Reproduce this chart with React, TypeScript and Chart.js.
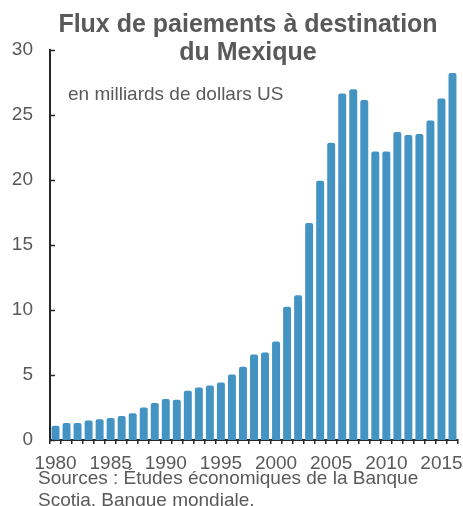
import React, { useEffect, useRef } from 'react';
import { Chart, registerables } from 'chart.js';

Chart.register(...registerables);

const years = [
  '1980', '1981', '1982', '1983', '1984', '1985', '1986', '1987', '1988', '1989',
  '1990', '1991', '1992', '1993', '1994', '1995', '1996', '1997', '1998', '1999',
  '2000', '2001', '2002', '2003', '2004', '2005', '2006', '2007', '2008', '2009',
  '2010', '2011', '2012', '2013', '2014', '2015', '2016',
];

const remittances = [
  1.1, 1.3, 1.3, 1.5, 1.6, 1.7, 1.85, 2.05, 2.5, 2.85,
  3.16, 3.1, 3.78, 4.04, 4.2, 4.42, 5.04, 5.63, 6.58, 6.73,
  7.58, 10.25, 11.13, 16.7, 19.94, 22.87, 26.65, 26.98, 26.16, 22.2,
  22.2, 23.7, 23.46, 23.54, 24.57, 26.27, 28.24,
];

const shownYearLabels = ['1980', '1985', '1990', '1995', '2000', '2005', '2010', '2015'];
const yTicks = [0, 5, 10, 15, 20, 25, 30];

const titleLines = ['Flux de paiements à destination', 'du Mexique'];
const subtitle = 'en milliards de dollars US';
const sourceLines = ['Sources : Études économiques de la Banque', 'Scotia, Banque mondiale.'];

const FONT = '"Liberation Sans", Arial, Helvetica, sans-serif';
const TEXT = '#595959';
const AXIS = '#262626';
const BAR = '#4393c3';

const decorations = {
  id: 'decorations',
  afterDraw(chart: any) {
    const ctx = chart.ctx;
    const area = chart.chartArea;
    const y = chart.scales.y;
    ctx.save();
    // inward y ticks
    ctx.strokeStyle = AXIS;
    ctx.lineWidth = 1.5;
    yTicks.forEach((v) => {
      const py = Math.round(y.getPixelForValue(v)) + 0.5;
      ctx.beginPath();
      ctx.moveTo(area.left, py);
      ctx.lineTo(area.left + 5, py);
      ctx.stroke();
    });
    // title
    ctx.fillStyle = TEXT;
    ctx.textAlign = 'center';
    ctx.textBaseline = 'alphabetic';
    ctx.font = `bold 25px ${FONT}`;
    ctx.fillText(titleLines[0], 248, 32);
    ctx.fillText(titleLines[1], 248, 60);
    // subtitle
    ctx.textAlign = 'left';
    ctx.font = `19px ${FONT}`;
    ctx.fillText(subtitle, 68, 100);
    // sources
    ctx.fillText(sourceLines[0], 38, 484);
    ctx.fillText(sourceLines[1], 38, 506);
    ctx.restore();
  },
};

export default function App() {
  const canvasRef = useRef<HTMLCanvasElement | null>(null);

  useEffect(() => {
    const canvas = canvasRef.current;
    if (!canvas) return;
    const chart = new Chart(canvas, {
      type: 'bar',
      data: {
        labels: years,
        datasets: [
          {
            data: remittances,
            backgroundColor: BAR,
            borderWidth: 0,
            borderRadius: { topLeft: 2, topRight: 2, bottomLeft: 0, bottomRight: 0 },
            borderSkipped: 'bottom',
            categoryPercentage: 1,
            barPercentage: 0.72,
          },
        ],
      },
      options: {
        animation: false,
        responsive: false,
        devicePixelRatio: 1,
        layout: { padding: { top: 50, right: 5, left: 0, bottom: 0 } },
        plugins: {
          legend: { display: false },
          title: { display: false },
          tooltip: { enabled: false },
        },
        scales: {
          x: {
            offset: true,
            grid: {
              display: true,
              offset: true,
              drawOnChartArea: false,
              drawTicks: true,
              tickLength: 4,
              color: AXIS,
              lineWidth: 1.5,
            },
            border: { display: true, color: AXIS, width: 2 },
            ticks: {
              autoSkip: false,
              maxRotation: 0,
              minRotation: 0,
              padding: 8,
              color: TEXT,
              font: { family: FONT, size: 19 },
              callback: function (this: any, value: any, index: number) {
                const lab = years[index];
                return shownYearLabels.includes(lab) ? lab : '';
              },
            },
            afterFit: (scale: any) => {
              scale.height = 66;
            },
          },
          y: {
            min: 0,
            max: 30,
            grid: { display: false, drawTicks: false },
            border: { display: true, color: AXIS, width: 2 },
            ticks: {
              stepSize: 5,
              padding: 17,
              color: TEXT,
              font: { family: FONT, size: 19 },
            },
            afterFit: (scale: any) => {
              scale.width = 50;
            },
          },
        },
      },
      plugins: [decorations],
    });
    return () => chart.destroy();
  }, []);

  return (
    <div style={{ position: 'fixed', left: 0, top: 0, width: 463, height: 506, background: '#fff' }}>
      <canvas ref={canvasRef} width={463} height={506} />
    </div>
  );
}
